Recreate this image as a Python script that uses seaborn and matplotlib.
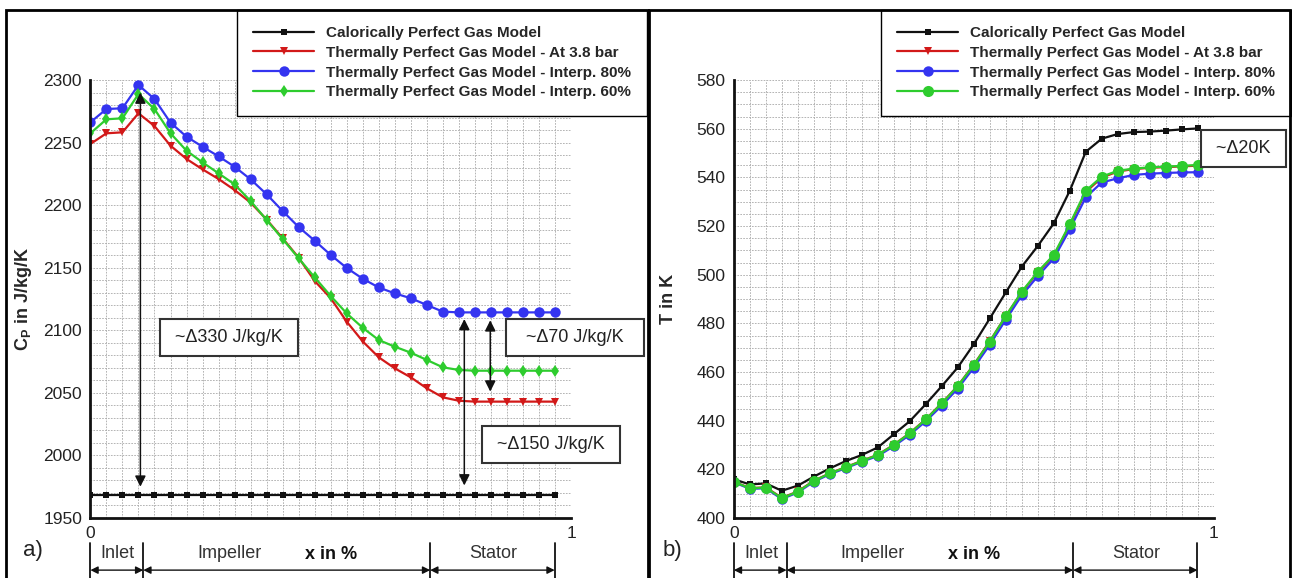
import numpy as np
import pandas as pd
import seaborn as sns
from matplotlib import pyplot as plt
from matplotlib import font_manager
from matplotlib.patches import Rectangle
from matplotlib.transforms import blended_transform_factory

# stations along the flow path (30 output planes)
station = np.arange(30) / 30

labels = ["Calorically Perfect Gas Model",
          "Thermally Perfect Gas Model - At 3.8 bar",
          "Thermally Perfect Gas Model - Interp. 80%",
          "Thermally Perfect Gas Model - Interp. 60%"]

# a) heat capacity Cp in J/kg/K
cp_cpg = [1968, 1968, 1968, 1968, 1968, 1968, 1968, 1968, 1968, 1968,
          1968, 1968, 1968, 1968, 1968, 1968, 1968, 1968, 1968, 1968,
          1968, 1968, 1968, 1968, 1968, 1968, 1968, 1968, 1968, 1968]
cp_38bar = [2248.9, 2257.4, 2258.2, 2273.4, 2263.2, 2247.5, 2236.9, 2228.6, 2220.9, 2212.1,
            2202.0, 2188.5, 2173.5, 2158.0, 2139.4, 2125.6, 2106.9, 2091.1, 2078.4, 2069.6,
            2062.4, 2053.6, 2046.4, 2043.7, 2043.0, 2043.0, 2043.0, 2043.0, 2043.0, 2043.0]
cp_80 = [2266.2, 2276.8, 2277.4, 2296.0, 2284.8, 2265.9, 2254.7, 2246.7, 2239.0, 2230.7,
         2220.6, 2208.7, 2195.3, 2182.5, 2171.6, 2160.2, 2149.8, 2141.2, 2134.2, 2129.5,
         2125.6, 2120.2, 2114.9, 2114.3, 2114.3, 2114.3, 2114.3, 2114.3, 2114.3, 2114.3]
cp_60 = [2257.4, 2268.6, 2269.4, 2288.8, 2276.8, 2257.4, 2243.5, 2234.2, 2225.4, 2216.6,
         2203.3, 2188.1, 2172.9, 2157.5, 2142.3, 2127.4, 2113.5, 2102.0, 2092.2, 2086.9,
         2082.1, 2076.3, 2070.4, 2068.3, 2067.7, 2067.7, 2067.7, 2067.7, 2067.7, 2067.7]

# b) static temperature in K
t_cpg = [415.9, 413.8, 414.2, 411.2, 413.3, 417.0, 420.4, 423.4, 425.9, 429.0,
         434.4, 439.8, 446.8, 454.2, 461.9, 471.4, 482.0, 492.7, 503.3, 511.8,
         521.1, 534.5, 550.5, 555.9, 557.8, 558.6, 558.8, 559.2, 559.7, 560.1]
t_38bar = [414.9, 412.3, 412.6, 408.3, 410.9, 415.3, 418.4, 420.9, 423.5, 426.0,
           430.1, 434.9, 440.6, 447.2, 454.3, 463.0, 472.6, 483.0, 492.8, 500.9,
           507.8, 520.3, 534.0, 539.9, 542.4, 543.4, 543.9, 544.2, 544.5, 544.8]
t_80 = [414.7, 412.0, 412.2, 407.8, 410.5, 414.9, 418.0, 420.5, 423.1, 425.5,
        429.5, 434.2, 439.8, 446.2, 453.2, 461.8, 471.2, 481.5, 491.5, 499.4,
        506.7, 518.6, 531.8, 537.9, 539.6, 541.0, 541.5, 541.8, 542.0, 542.1]
t_60 = [414.9, 412.2, 412.5, 408.1, 410.8, 415.2, 418.3, 420.8, 423.4, 425.9,
        430.0, 434.8, 440.5, 447.1, 454.2, 462.9, 472.5, 483.0, 493.0, 501.2,
        508.1, 520.8, 534.5, 540.3, 542.7, 543.6, 544.1, 544.4, 544.7, 545.1]

regions = ["Inlet", "Impeller", "Stator"]
region_bounds = [0.0, 0.11, 0.707, 0.966]

sns.set_style("white")
installed = {f.name for f in font_manager.fontManager.ttflist}
NARROW = "Liberation Sans Narrow" if "Liberation Sans Narrow" in installed else "Liberation Sans"
plt.rcParams["font.family"] = ["Liberation Sans", "DejaVu Sans"]
plt.rcParams["mathtext.fontset"] = "custom"
plt.rcParams["mathtext.rm"] = "Liberation Sans"
plt.rcParams["mathtext.bf"] = "Liberation Sans:bold"

colors = ["#111111", "#d21919", "#3434f0", "#2ecc2e"]

W, H = 1292, 578
fig = plt.figure(figsize=(W / 100, H / 100), dpi=100)
ax1 = fig.add_axes([90.4 / W, 1 - 518 / H, 480.6 / W, 438 / H])
ax2 = fig.add_axes([733.8 / W, 1 - 518 / H, 480 / W, 438 / H])

# frames around both panels
fig.patches.append(Rectangle((6 / W, -0.1), 642 / W, 1.1 - 10 / H, transform=fig.transFigure,
                             fill=False, edgecolor="black", linewidth=2))
fig.patches.append(Rectangle((649 / W, -0.1), 641 / W, 1.1 - 10 / H, transform=fig.transFigure,
                             fill=False, edgecolor="black", linewidth=2))

left_styles = [("s", 4.5), ("v", 6), ("o", 7.5), ("d", 6.5)]
right_styles = [("s", 4.5), ("v", 6), ("o", 7.5), ("o", 8)]

for ax, series, styles in [(ax1, [cp_cpg, cp_38bar, cp_80, cp_60], left_styles),
                           (ax2, [t_cpg, t_38bar, t_80, t_60], right_styles)]:
    for vals, lab, col, (mk, ms) in zip(series, labels, colors, styles):
        df = pd.DataFrame({"x": station, "y": vals})
        sns.lineplot(data=df, x="x", y="y", color=col, marker=mk, markersize=ms,
                     markeredgewidth=0, linewidth=1.6, label=lab, ax=ax)

    ax.set_xlim(0, 1)
    ax.set_xticks(np.arange(7) / 6)
    ax.set_xticklabels(["0", "", "", "", "", "", "1"])
    ax.set_xticks(np.arange(31) / 30, minor=True)
    ax.grid(which="both", linestyle=(0, (2, 1.5)), color="#a8a8a8", linewidth=0.6)
    ax.tick_params(which="major", direction="in", length=8, width=1.6, labelsize=12.5,
                   labelcolor="#222222", pad=6)
    ax.tick_params(which="minor", length=0)
    for s in ["top", "right"]:
        ax.spines[s].set_visible(False)
    for s in ["left", "bottom"]:
        ax.spines[s].set_linewidth(2)
        ax.spines[s].set_color("#111111")
    ax.set_xlabel("")

    leg_left = 237 if ax is ax1 else 881
    ax.legend(loc="upper left", bbox_to_anchor=(leg_left / W, 1 - 10 / H),
              bbox_transform=fig.transFigure, frameon=True, fancybox=False,
              edgecolor="black", framealpha=1, borderaxespad=0, borderpad=1.05,
              handlelength=4.0, handletextpad=0.8, labelspacing=0.38,
              prop={"family": NARROW, "weight": "bold", "size": 11})
    ax.get_legend().get_frame().set_linewidth(1.0)

    # sections of the machine below the x axis
    tr = blended_transform_factory(ax.transData, ax.transAxes)
    for xb in region_bounds:
        ax.plot([xb, xb], [-0.057, -0.14], transform=tr, clip_on=False, color="#111111", lw=1.3)
    for i, name in enumerate(regions):
        a, b = region_bounds[i], region_bounds[i + 1]
        ax.annotate("", xy=(a, -0.119), xytext=(b, -0.119), xycoords=tr, textcoords=tr,
                    arrowprops=dict(arrowstyle="<|-|>", color="#111111", lw=1,
                                    mutation_scale=11, shrinkA=0, shrinkB=0))
    ax.text(0.057, -0.08, "Inlet", transform=tr, ha="center", va="center", fontsize=13, color="#333333")
    ax.text(0.29, -0.08, "Impeller", transform=tr, ha="center", va="center", fontsize=13, color="#333333")
    ax.text(0.838, -0.08, "Stator", transform=tr, ha="center", va="center", fontsize=13, color="#333333")
    ax.text(0.5, -0.083, "x in %", transform=tr, ha="center", va="center", fontsize=13,
            fontweight="bold", color="#111111")

# a) Cp panel
ax1.set_ylim(1950, 2300)
ax1.set_yticks(np.arange(1950, 2301, 50))
ax1.set_yticks(np.arange(1950, 2301, 10), minor=True)
ax1.set_ylabel(r"C$_\mathbf{P}$ in J/kg/K", fontsize=13, fontweight="bold")
ax1.yaxis.set_label_coords(-0.118, 0.5)
ax1.text(-0.14, -0.075, "a)", transform=ax1.transAxes, ha="left", va="center", fontsize=16, color="#222222")

arrow = dict(arrowstyle="<|-|>", color="#111111", lw=1.1, mutation_scale=16, shrinkA=0, shrinkB=0)
ax1.annotate("", xy=(0.104, 2290), xytext=(0.104, 1975), arrowprops=arrow)
ax1.annotate("", xy=(0.778, 2109), xytext=(0.778, 1976), arrowprops=arrow)
ax1.annotate("", xy=(0.832, 2108), xytext=(0.832, 2051), arrowprops=arrow)

box = dict(boxstyle="square,pad=0.55", facecolor="white", edgecolor="#333333", linewidth=1.5)
ax1.text(0.289, 2094, " ~\u0394330 J/kg/K ", fontsize=13, ha="center", va="center", bbox=box, color="#222222")
ax1.text(1.008, 2094, "  ~\u039470 J/kg/K  ", fontsize=13, ha="center", va="center", bbox=box,
         color="#222222", clip_on=False)
ax1.text(0.959, 2009, " ~\u0394150 J/kg/K ", fontsize=13, ha="center", va="center", bbox=box,
         color="#222222", clip_on=False)

# b) temperature panel
ax2.set_ylim(400, 580)
ax2.set_yticks(np.arange(400, 581, 20))
ax2.set_yticks(np.arange(400, 581, 5), minor=True)
ax2.set_ylabel("T in K", fontsize=13, fontweight="bold")
ax2.yaxis.set_label_coords(-0.118, 0.5)
ax2.text(-0.149, -0.075, "b)", transform=ax2.transAxes, ha="left", va="center", fontsize=16, color="#222222")
ax2.text(1.062, 551.8, " ~\u039420K ", fontsize=13, ha="center", va="center", bbox=box,
         color="#222222", clip_on=False)

fig.savefig("out.png", dpi=100)
